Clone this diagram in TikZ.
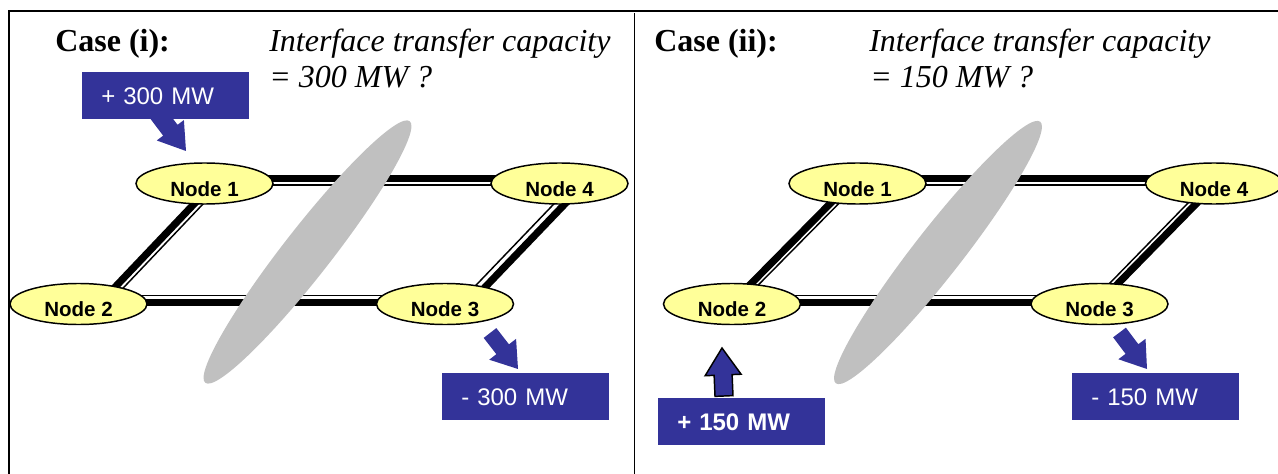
\documentclass[tikz,border=0pt]{standalone}
\usepackage{fontspec}
\setmainfont{Liberation Serif}
\newfontfamily\arialfont{Liberation Sans}
\usetikzlibrary{calc,shapes.geometric}
\definecolor{flowblue}{HTML}{333399}
\definecolor{busyellow}{HTML}{FFFF99}
\definecolor{lensgray}{HTML}{C0C0C0}
\pgfdeclarelayer{rails}
\pgfsetlayers{rails,main}

% block arrow: #1 style, #2 name, #3 tail, #4 tip, #5 half shaft, #6 half head, #7 head length
\newcommand\blockarrow[7]{%
  \coordinate (#2-t) at #3;
  \coordinate (#2-p) at #4;
  \coordinate (#2-h) at ($(#2-p)!#7!(#2-t)$);
  \path[#1] ($(#2-t)!#5!90:(#2-p)$) -- ($(#2-h)!#5!90:(#2-p)$)
    -- ($(#2-h)!#6!90:(#2-p)$) -- (#2-p) -- ($(#2-h)!#6!-90:(#2-p)$)
    -- ($(#2-h)!#5!-90:(#2-p)$) -- ($(#2-t)!#5!-90:(#2-p)$) -- cycle;
}

\begin{document}
\begin{tikzpicture}[x=0.75pt, y=-0.75pt,
  bus/.style={ellipse, draw, line width=1.1pt, fill=busyellow,
    minimum width=102.75pt, minimum height=30.75pt, inner sep=0pt,
    text height=19.6pt, text depth=0.4pt,
    font=\arialfont\bfseries\fontsize{15.4}{18}\selectfont},
  railthick/.style={line width=5.4pt},
  railthin/.style={line width=1.1pt},
  lens/.style={ellipse, fill=lensgray, minimum width=249pt,
    minimum height=36pt, inner sep=0pt, rotate=52},
  flowbox/.style={fill=flowblue, text=white, anchor=north west,
    minimum width=125.25pt, minimum height=35.25pt,
    inner xsep=14.25pt, inner ysep=0pt, text width=96.75pt, align=left,
    text height=12.9pt, text depth=0pt,
    font=\arialfont\fontsize{18}{21}\selectfont},
  flowarrow/.style={fill=flowblue},
  casetitle/.style={anchor=base west, inner sep=0pt,
    font=\bfseries\fontsize{24}{28}\selectfont},
  question/.style={anchor=base west, inner sep=0pt,
    font=\itshape\fontsize{24}{28}\selectfont}]

\useasboundingbox (0,0) rectangle (1278,474);

% frame and panel divider
\draw[line width=1.5pt] (8,11.5) -- (1278,11.5);
\draw[line width=1.1pt] (9,11.5) -- (9,474);
\draw[line width=1.1pt] (634.5,13) -- (634.5,474);

% headings
\node[casetitle] (t1) at (55,52) {Case (i):};
\node[question] (q1a) at (269,52) {Interface transfer capacity};
\node[question] (q1b) at (269,88) {= 300 MW ?};
\node[casetitle] (t2) at (654,52) {Case (ii):};
\node[question] (q2a) at (869,52) {Interface transfer capacity};
\node[question] (q2b) at (870,88) {= 150 MW ?};

% interfaces
\node[lens] (g1) at (307.5,252) {};
\node[lens] (g2) at (938,252.5) {};

% buses, case (i)
\node[bus] (a1) at (204.5,183.5) {Node 1};
\node[bus] (a4) at (559.5,183.5) {Node 4};
\node[bus] (a2) at (78.5,304) {Node 2};
\node[bus] (a3) at (445,304) {Node 3};

% buses, case (ii)
\node[bus] (b1) at (857.5,183.5) {Node 1};
\node[bus] (b4) at (1214,183.5) {Node 4};
\node[bus] (b2) at (732,304) {Node 2};
\node[bus] (b3) at (1099.5,304) {Node 3};

% double-line branches
\begin{pgfonlayer}{rails}
  \draw[railthick] ($(a1)+(0,-5.3)$) -- ($(a4)+(0,-5.3)$);
  \draw[railthin]  ($(a1)+(0,1.3)$)  -- ($(a4)+(0,1.3)$);
  \draw[railthick] ($(a2)+(0,-1.5)$) -- ($(a3)+(0,-1.5)$);
  \draw[railthin]  ($(a2)+(0,-8.5)$) -- ($(a3)+(0,-8.5)$);
  \draw[railthick] ($(a1)+(9,0)$)  -- ($(a2)+(20.5,0)$);
  \draw[railthin]  ($(a1)+(18,0)$) -- ($(a2)+(29.5,0)$);
  \draw[railthin]  ($(a4)+(14,0)$) -- ($(a3)+(13,0)$);
  \draw[railthick] ($(a4)+(25,0)$) -- ($(a3)+(24,0)$);

  \draw[railthick] ($(b1)+(0,-5.3)$) -- ($(b4)+(0,-5.3)$);
  \draw[railthin]  ($(b1)+(0,1.3)$)  -- ($(b4)+(0,1.3)$);
  \draw[railthick] ($(b2)+(0,-1.5)$) -- ($(b3)+(0,-1.5)$);
  \draw[railthin]  ($(b2)+(0,-8.5)$) -- ($(b3)+(0,-8.5)$);
  \draw[railthick] ($(b1)+(-7.5,0)$) -- ($(b2)+(-1,0)$);
  \draw[railthin]  ($(b1)+(1,0)$)    -- ($(b2)+(7.5,0)$);
  \draw[railthin]  ($(b4)+(-7,0)$)   -- ($(b3)+(-10,0)$);
  \draw[railthick] ($(b4)+(2,0)$)    -- ($(b3)+(-1.5,0)$);
\end{pgfonlayer}

% injection and withdrawal arrows
\blockarrow{flowarrow}{f1}{(146,98)}{(186,151)}{6.75pt}{12.75pt}{19.5pt}
\blockarrow{flowarrow}{f2}{(490,333)}{(518,369)}{6pt}{12.75pt}{18.75pt}
\blockarrow{flowarrow}{f3}{(1119.5,332.5)}{(1147,369)}{6pt}{12.75pt}{18.75pt}
\blockarrow{flowarrow, draw=black, line width=1.1pt}{f4}{(724,396)}{(722,348)}{6.75pt}{13.5pt}{20.25pt}

% injection and withdrawal boxes
\node[flowbox] (p1) at (82,72) {+ 300 MW};
\node[flowbox] (m1) at (442,373) {- 300 MW};
\node[flowbox, font=\arialfont\bfseries\fontsize{18}{21}\selectfont] (p2) at (658,398) {+ 150 MW};
\node[flowbox] (m2) at (1072,373) {- 150 MW};

\end{tikzpicture}
\end{document}
